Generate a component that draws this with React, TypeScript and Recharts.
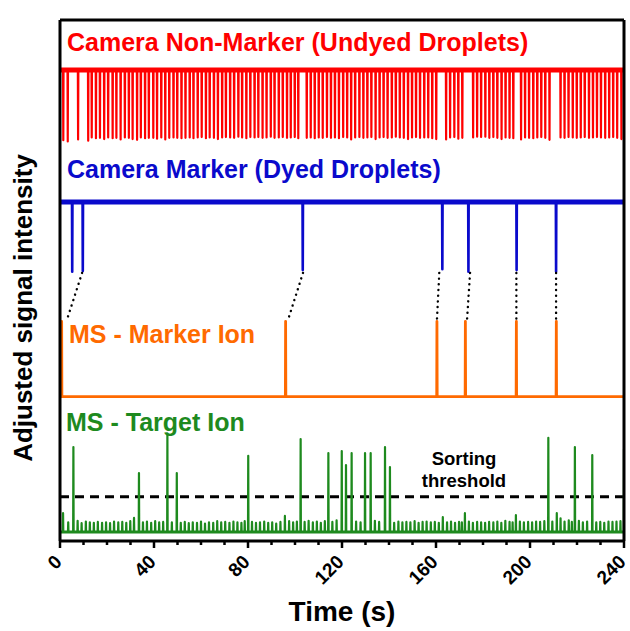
import React from "react";
import { ComposedChart, Line, XAxis, YAxis, ReferenceLine } from "recharts";

const TIME_TICKS = [0, 10, 20, 30, 40, 50, 60, 70, 80, 90, 100, 110, 120, 130, 140, 150, 160, 170, 180, 190, 200, 210, 220, 230, 240];

// baseline of each stacked trace (adjusted intensity units)
const RED_BASE = 117.5;
const BLUE_BASE = 84.6;
const ORANGE_BASE = 36;
const GREEN_BASE = 2.25;
const THRESHOLD = 11.05;
const Y_MAX = 130;

// camera non-marker: [time s, dip depth]
const redDips: [number, number][] = [
    [1.4, 17.5], [3.3, 17.8], [7.7, 17.3], [12.0, 17.6], [13.5, 16.8], [15.3, 17.0], [17.0, 16.9], [18.8, 17.2],
    [20.5, 16.8], [22.4, 17.0], [24.0, 16.9], [25.8, 17.3], [27.6, 16.8], [29.3, 16.9], [30.9, 17.2], [32.8, 17.4],
    [34.4, 16.8], [36.2, 17.0], [37.8, 16.9], [39.7, 16.9], [41.3, 17.1], [43.1, 16.8], [44.8, 17.3], [46.5, 16.9],
    [48.3, 16.8], [49.9, 16.9], [51.7, 17.0], [53.4, 16.9], [55.2, 16.8], [56.8, 17.0], [58.6, 16.8], [60.3, 16.7],
    [62.1, 17.0], [63.7, 16.8], [65.5, 16.9], [67.2, 17.2], [69.0, 16.8], [70.6, 16.7], [72.4, 16.8], [74.1, 16.9],
    [75.9, 16.6], [77.5, 16.8], [79.3, 17.0], [81.0, 16.7], [82.8, 16.8], [84.4, 16.7], [86.2, 16.9], [87.9, 16.8],
    [89.7, 16.6], [91.3, 16.9], [93.1, 16.8], [94.8, 16.7], [96.6, 16.9], [98.2, 16.8], [99.9, 16.7], [101.4, 17.0],
    [105.0, 16.9], [106.7, 16.8], [108.4, 17.0], [110.1, 16.8], [111.8, 16.9], [113.6, 16.7], [115.3, 16.9], [117.0, 16.8],
    [118.7, 17.0], [120.5, 16.7], [122.2, 16.8], [123.9, 17.3], [125.6, 16.8], [127.4, 16.7], [129.1, 16.9], [130.8, 16.8],
    [132.5, 16.7], [134.3, 17.2], [136.0, 16.8], [137.7, 16.7], [139.4, 16.9], [141.2, 16.8], [142.9, 16.6], [144.6, 16.8],
    [146.3, 16.9], [148.1, 17.2], [149.8, 16.8], [151.5, 16.7], [153.2, 16.9], [155.0, 16.8], [156.7, 16.8], [158.4, 17.0],
    [160.1, 17.2], [164.3, 17.3], [166.0, 16.8], [167.8, 16.7], [169.5, 17.1], [171.2, 16.9], [175.8, 16.8], [177.5, 16.6],
    [179.2, 16.7], [181.0, 16.6], [182.7, 16.9], [184.4, 16.7], [186.1, 16.9], [187.9, 17.2], [189.6, 16.8], [191.3, 16.9],
    [192.9, 17.0], [196.2, 17.3], [197.9, 16.8], [199.6, 16.9], [201.4, 17.0], [203.1, 16.8], [204.8, 16.7], [206.5, 16.9],
    [208.3, 17.4], [213.0, 16.8], [214.7, 16.9], [216.4, 16.7], [218.2, 16.8], [219.9, 16.9], [221.6, 16.8], [223.3, 16.7],
    [225.1, 16.9], [226.8, 16.8], [228.5, 16.7], [230.2, 16.8], [232.0, 16.9], [233.7, 16.8], [235.4, 16.7], [237.1, 16.9],
    [238.9, 17.2],
];

// camera marker (dyed droplets)
const blueDips: [number, number][] = [
    [5.2, 17.4], [9.7, 17.2], [103.3, 17.0], [162.7, 16.8], [173.8, 17.4], [194.3, 17.0], [211.1, 17.4],
];

// MS marker ion
const markerIon: [number, number][] = [
    [0.7, 18.8], [96.0, 18.8], [160.4, 18.8], [172.5, 18.8], [194.2, 18.8], [211.2, 18.8],
];

// MS target ion, larger peaks
const targetPeaks: [number, number][] = [
    [1.3, 4.7], [5.7, 21.2], [31.5, 3.5], [33.6, 14.7], [45.7, 24.2], [49.7, 14.7], [80.1, 19.0], [95.7, 4.0],
    [102.4, 23.2], [114.2, 19.7], [119.9, 20.2], [121.7, 16.7], [124.1, 19.7], [129.8, 19.7], [132.2, 19.7], [138.3, 21.2],
    [140.4, 16.2], [172.3, 4.7], [194.0, 4.2], [207.8, 23.5], [211.4, 4.7], [219.1, 21.2], [226.5, 19.2], [240.0, 20.7],
];

// MS target ion, per-droplet background peaks
const targetSmall: [number, number][] = [
    [3.5, 2.4], [7.5, 2.8], [9.2, 2.2], [11.0, 2.6], [12.7, 2.4], [14.4, 2.3], [16.1, 2.5], [17.9, 2.3],
    [19.6, 2.4], [21.3, 2.2], [23.0, 2.6], [24.8, 2.4], [26.5, 2.5], [28.2, 2.3], [29.9, 2.7], [35.3, 2.4],
    [37.0, 2.6], [38.8, 2.3], [40.5, 2.7], [42.2, 2.4], [43.9, 2.5], [47.6, 2.4], [51.4, 2.3], [53.1, 2.5],
    [54.8, 2.2], [56.5, 2.4], [58.3, 2.3], [60.0, 2.6], [61.7, 2.1], [63.4, 2.4], [65.2, 2.3], [66.9, 2.7],
    [68.6, 2.4], [70.3, 2.5], [72.1, 2.3], [73.8, 2.6], [75.5, 2.4], [77.2, 2.3], [78.6, 2.7], [81.7, 2.5],
    [83.4, 2.3], [85.1, 2.4], [86.9, 2.6], [88.6, 2.3], [90.3, 2.4], [92.0, 2.1], [93.8, 2.5], [97.5, 2.7],
    [99.2, 2.4], [100.8, 2.6], [104.1, 2.5], [105.8, 2.8], [107.6, 2.4], [109.3, 2.6], [111.0, 2.3], [112.7, 2.7],
    [115.9, 2.5], [117.7, 2.9], [126.0, 2.6], [127.9, 2.4], [134.0, 2.8], [135.8, 2.5], [142.2, 2.3], [144.0, 2.6],
    [145.7, 2.4], [147.4, 2.5], [149.1, 2.4], [150.9, 2.7], [152.6, 2.3], [154.3, 2.5], [156.0, 2.6], [157.8, 2.4],
    [159.5, 2.5], [161.2, 2.3], [162.9, 3.7], [164.7, 2.4], [166.4, 2.6], [168.1, 2.3], [169.8, 2.5], [171.0, 2.4],
    [174.0, 2.6], [175.7, 2.3], [177.5, 2.5], [179.2, 2.4], [180.9, 2.3], [182.6, 2.5], [184.4, 2.4], [186.1, 2.6],
    [187.8, 2.3], [189.5, 2.8], [191.3, 2.5], [192.6, 2.4], [195.7, 2.6], [197.4, 2.4], [199.2, 2.5], [200.9, 2.4],
    [202.6, 2.6], [204.3, 2.5], [206.1, 2.7], [209.5, 2.6], [213.0, 3.4], [214.7, 2.6], [216.5, 2.9], [217.8, 2.5],
    [220.8, 2.8], [222.5, 2.4], [224.3, 2.6], [228.2, 2.4], [229.9, 2.5], [231.6, 2.3], [233.4, 2.6], [235.1, 2.5],
    [236.8, 2.6], [238.5, 2.7],
];

// dotted connectors: [camera marker time, MS marker time]
const links: [number, number][] = [
    [9.4, 2.9], [103.4, 97.0], [161.4, 160.4], [174.5, 173.2], [194.2, 194.2], [211.1, 211.1],
];

const LINK_TOP = BLUE_BASE - 17.7;
const LINK_BOTTOM = ORANGE_BASE + 19.1;

const FONT = "'Liberation Sans', Arial, Helvetica, sans-serif";
const RED = "#FF0000";
const BLUE = "#0A0ACC";
const ORANGE = "#FF6A00";
const GREEN = "#1E8A1E";

function trace(base: number, events: [number, number][], sign: number) {
    const pts = [{ t: 0, v: base }];
    const sorted = [...events].sort((a, b) => a[0] - b[0]);
    for (const [t, h] of sorted) {
        pts.push({ t: Math.max(0, t - 0.1), v: base });
        pts.push({ t, v: base + sign * h });
        pts.push({ t: Math.min(240, t + 0.1), v: base });
    }
    pts.push({ t: 240, v: base });
    return pts;
}

const flat = (base: number) => [{ t: 0, v: base }, { t: 240, v: base }];

const redData = trace(RED_BASE, redDips, -1);
const blueData = trace(BLUE_BASE, blueDips, -1);
const orangeData = trace(ORANGE_BASE, markerIon, 1);
const greenData = trace(GREEN_BASE, [...targetPeaks, ...targetSmall], 1);

const TimeTick = (props: any) => {
    const { x, y, payload } = props;
    const major = payload.value % 40 === 0;
    return (
        <g>
            <line x1={x} x2={x} y1={y} y2={y + (major ? 7 : 4)} stroke="#000" strokeWidth={2.5} />
            {major && (
                <text
                    transform={`translate(${x + 3},${y + 22}) rotate(-45)`}
                    textAnchor="end"
                    fontSize={19}
                    fontWeight="bold"
                    fontFamily={FONT}
                    fill="#000"
                >
                    {payload.value}
                </text>
            )}
        </g>
    );
};

const series = (data: any[], color: string, width: number, key: string) => (
    <Line
        key={key}
        data={data}
        dataKey="v"
        xAxisId="b"
        yAxisId="l"
        type="linear"
        stroke={color}
        strokeWidth={width}
        strokeLinejoin="round"
        dot={false}
        activeDot={false}
        isAnimationActive={false}
    />
);

export default function App() {
    return (
        <div style={{ position: "absolute", left: 0, top: 0, width: 630, height: 631, background: "#fff" }}>
            <ComposedChart width={630} height={631} margin={{ top: 19, right: 6, bottom: 0, left: 60 }}>
                <XAxis
                    xAxisId="b"
                    dataKey="t"
                    type="number"
                    domain={[0, 240]}
                    ticks={TIME_TICKS}
                    interval={0}
                    allowDataOverflow
                    height={90}
                    tickSize={0}
                    tickMargin={0}
                    tickLine={false}
                    tick={<TimeTick />}
                    axisLine={{ stroke: "#000", strokeWidth: 3 }}
                />
                <XAxis
                    xAxisId="t"
                    orientation="top"
                    dataKey="t"
                    type="number"
                    domain={[0, 240]}
                    ticks={TIME_TICKS}
                    interval={0}
                    allowDataOverflow
                    height={1}
                    tickSize={3}
                    tick={false}
                    tickLine={{ stroke: "#000", strokeWidth: 2 }}
                    axisLine={false}
                />
                <YAxis yAxisId="l" type="number" domain={[0, Y_MAX]} allowDataOverflow hide />
                <ReferenceLine y={THRESHOLD} xAxisId="b" yAxisId="l" stroke="#000" strokeWidth={3} strokeDasharray="9 6" />
                {series(flat(RED_BASE), RED, 5, "red-base")}
                {series(redData, RED, 2.2, "red")}
                {series(flat(BLUE_BASE), BLUE, 5, "blue-base")}
                {series(blueData, BLUE, 2.6, "blue")}
                {series(orangeData, ORANGE, 2.8, "orange")}
                {series(greenData, GREEN, 2.2, "green")}
                {series(flat(GREEN_BASE), GREEN, 3, "green-base")}
                {links.map(([camT, msT], i) => (
                    <Line
                        key={`link-${i}`}
                        data={[{ t: camT, v: LINK_TOP }, { t: msT, v: LINK_BOTTOM }]}
                        dataKey="v"
                        xAxisId="b"
                        yAxisId="l"
                        type="linear"
                        stroke="#000"
                        strokeWidth={2.4}
                        strokeDasharray="0.1 5.6"
                        strokeLinecap="round"
                        dot={false}
                        activeDot={false}
                        isAnimationActive={false}
                    />
                ))}
                {/* frame */}
                <ReferenceLine x={0} xAxisId="b" yAxisId="l" stroke="#000" strokeWidth={3} />
                <ReferenceLine x={240} xAxisId="b" yAxisId="l" stroke="#000" strokeWidth={3} />
                <ReferenceLine y={Y_MAX} xAxisId="b" yAxisId="l" stroke="#000" strokeWidth={3} />
            </ComposedChart>
            <svg
                width={630}
                height={631}
                style={{ position: "absolute", left: 0, top: 0, pointerEvents: "none" }}
                fontFamily={FONT}
                fontWeight="bold"
            >
                <text x={67} y={51} fontSize={25} fill={RED}>Camera Non-Marker (Undyed Droplets)</text>
                <text x={67} y={178} fontSize={25} fill={BLUE}>Camera Marker (Dyed Droplets)</text>
                <text x={69} y={343} fontSize={25} fill={ORANGE}>MS - Marker Ion</text>
                <text x={66} y={431} fontSize={25} fill={GREEN}>MS - Target Ion</text>
                <text x={464} y={465} fontSize={18.5} textAnchor="middle" fill="#000">Sorting</text>
                <text x={464} y={487} fontSize={18.5} textAnchor="middle" fill="#000">threshold</text>
                <text x={342} y={621} fontSize={28} textAnchor="middle" fill="#000">Time (s)</text>
                <text
                    transform="translate(32,308) rotate(-90)"
                    fontSize={26}
                    textAnchor="middle"
                    fill="#000"
                >
                    Adjusted signal intensity
                </text>
            </svg>
        </div>
    );
}
